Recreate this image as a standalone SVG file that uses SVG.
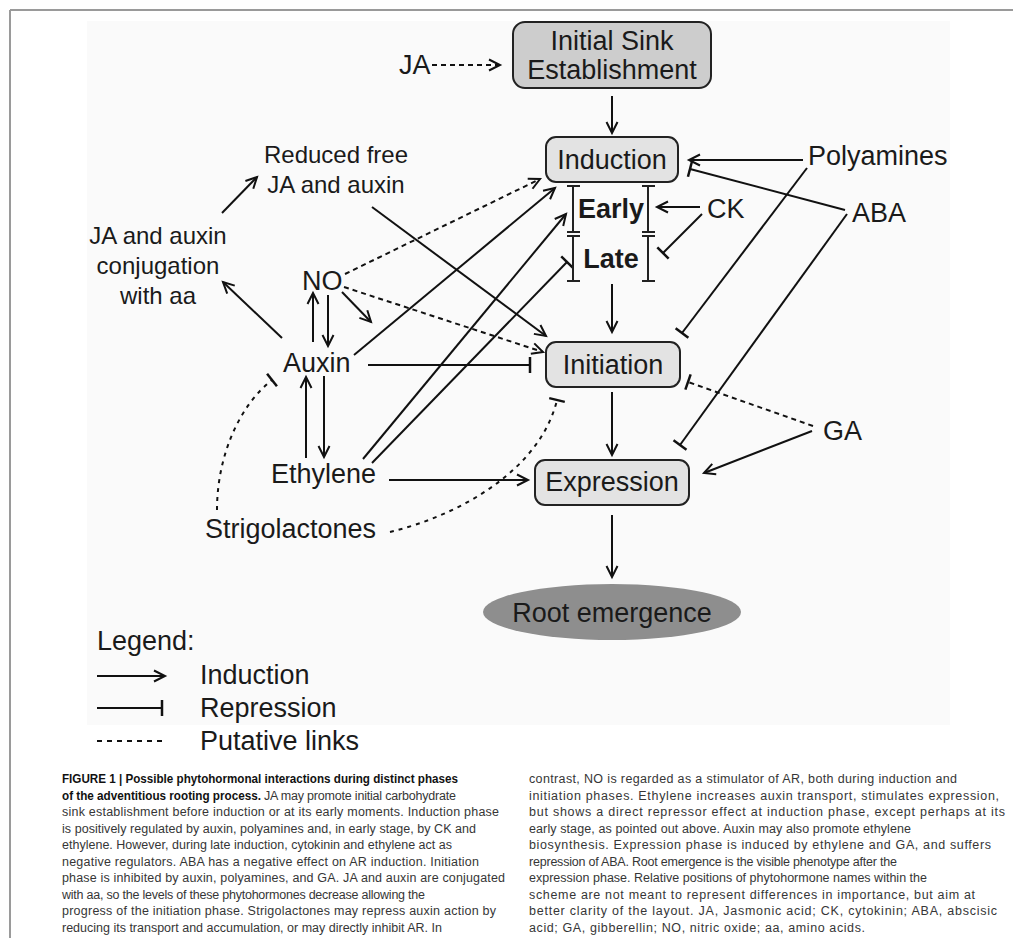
<svg xmlns="http://www.w3.org/2000/svg" width="1013" height="938" viewBox="0 0 1013 938">
<defs>
<style>
.t{font-family:"Liberation Sans",Arial,sans-serif;font-size:27px;fill:#1a1a1a}
.ts{font-family:"Liberation Sans",Arial,sans-serif;font-size:24px;fill:#1a1a1a}
.tb{font-family:"Liberation Sans",Arial,sans-serif;font-size:27px;font-weight:bold;fill:#1a1a1a}
.box{stroke:#222;stroke-width:2}
.c{fill:none;stroke:#111;stroke-width:2}
.d{stroke-dasharray:5 4}
.p{stroke-dasharray:4 5}
.br{fill:none;stroke:#222;stroke-width:2}
.cap{font-family:"Liberation Sans",Arial,sans-serif;font-size:12.5px;fill:#363636}
.capb{font-family:"Liberation Sans",Arial,sans-serif;font-size:12.5px;font-weight:bold;fill:#111}
</style>
<marker id="arr" markerUnits="userSpaceOnUse" viewBox="0 0 16 14" markerWidth="16" markerHeight="14" refX="13" refY="7" orient="auto"><path d="M2,1.5 L13,7 L2,12.5" fill="none" stroke="#111" stroke-width="2"/></marker>
<marker id="bar" markerUnits="userSpaceOnUse" viewBox="0 0 6 20" markerWidth="6" markerHeight="20" refX="3" refY="10" orient="auto"><path d="M3,2 L3,18" stroke="#111" stroke-width="2.5"/></marker>
</defs>
<rect width="1013" height="938" fill="#fff"/>
<rect x="87" y="21" width="863" height="704" fill="#fafafa"/>
<path d="M10,10 H1013 M10,10 V938" fill="none" stroke="#9a9a9a" stroke-width="2"/>

<g id="connectors">
<path class="c d" d="M432,65 H500" marker-end="url(#arr)"/>
<path class="c" d="M612,96 V133" marker-end="url(#arr)"/>
<path class="c" d="M612,284 V332" marker-end="url(#arr)"/>
<path class="c" d="M612,392 V455" marker-end="url(#arr)"/>
<path class="c" d="M612,515 V577" marker-end="url(#arr)"/>
<path class="c" d="M803,160 H689" stroke-width="2.5" marker-end="url(#arr)"/>
<path class="c" d="M807,168 L682,333" marker-end="url(#bar)"/>
<path class="c" d="M845,210 L690,169" marker-end="url(#bar)"/>
<path class="c" d="M847,214 L680,445" marker-end="url(#bar)"/>
<path class="c" d="M700,207 H657" marker-end="url(#arr)"/>
<path class="c" d="M702,214 L663,253" marker-end="url(#bar)"/>
<path class="c d" d="M813,426 L688,382" marker-end="url(#bar)"/>
<path class="c" d="M812,431 L704,473" marker-end="url(#arr)"/>
<path class="c d" d="M345,274 L540,179" marker-end="url(#arr)"/>
<path class="c d" d="M344,287 L543,352" marker-end="url(#arr)"/>
<path class="c" d="M342,292 L371,322" marker-end="url(#arr)"/>
<path class="c" d="M313,342 V293" marker-end="url(#arr)"/>
<path class="c" d="M328,295 V346" marker-end="url(#arr)"/>
<path class="c" d="M282,338 L223,282" marker-end="url(#arr)"/>
<path class="c" d="M222,213 L257,177" marker-end="url(#arr)"/>
<path class="c" d="M372,207 L546,336" marker-end="url(#arr)"/>
<path class="c" d="M354,355 L555,188" marker-end="url(#arr)"/>
<path class="c" d="M368,365 H530" marker-end="url(#bar)"/>
<path class="c" d="M306,458 V377" marker-end="url(#arr)"/>
<path class="c" d="M324,376 V457" marker-end="url(#arr)"/>
<path class="c" d="M363,459 L566,214" marker-end="url(#arr)"/>
<path class="c" d="M372,463 L567,262" marker-end="url(#bar)"/>
<path class="c" d="M389,480 H528" marker-end="url(#arr)"/>
<path class="c p" d="M217,510 C217,455 240,405 272,380" marker-end="url(#bar)"/>
<path class="c p" d="M390,532 C460,515 540,470 557,400" marker-end="url(#bar)"/>
</g>

<g id="sink"><rect class="box" x="513" y="22" width="198" height="66" rx="12" fill="#cdcdcd"/>
<text class="t" x="612" y="50" text-anchor="middle">Initial Sink</text>
<text class="t" x="612" y="79" text-anchor="middle">Establishment</text></g>
<g id="induction"><rect class="box" x="546" y="137" width="132" height="45" rx="10" fill="#e3e3e3"/>
<text class="t" x="612" y="169" text-anchor="middle">Induction</text></g>
<g id="early"><path class="br" d="M567,186 H580 M573,186 V232 M567,232 H580 M642,186 H655 M648,186 V232 M642,232 H655"/>
<text class="tb" x="611" y="218" text-anchor="middle">Early</text></g>
<g id="late"><path class="br" d="M567,236 H580 M573,236 V281 M567,281 H580 M642,236 H655 M648,236 V281 M642,281 H655"/>
<text class="tb" x="611" y="268" text-anchor="middle">Late</text></g>
<g id="initiation"><rect class="box" x="546" y="342" width="134" height="45" rx="10" fill="#e3e3e3"/>
<text class="t" x="613" y="374" text-anchor="middle">Initiation</text></g>
<g id="expression"><rect class="box" x="535" y="460" width="154" height="45" rx="10" fill="#e3e3e3"/>
<text class="t" x="612" y="491" text-anchor="middle">Expression</text></g>
<g id="root"><ellipse cx="612" cy="612" rx="129" ry="28" fill="#8e8e8e"/>
<text class="t" x="612" y="622" text-anchor="middle">Root emergence</text></g>

<g id="ja"><text class="t" x="399" y="74">JA</text></g>
<g id="reduced"><text class="ts" x="336" y="163" text-anchor="middle">Reduced free</text>
<text class="ts" x="336" y="193" text-anchor="middle">JA and auxin</text></g>
<g id="conjugation"><text class="ts" x="158" y="244" text-anchor="middle">JA and auxin</text>
<text class="ts" x="158" y="274" text-anchor="middle">conjugation</text>
<text class="ts" x="158" y="304" text-anchor="middle">with aa</text></g>
<g id="no"><text class="t" x="302" y="290">NO</text></g>
<g id="auxin"><text class="t" x="283" y="372">Auxin</text></g>
<g id="ethylene"><text class="t" x="271" y="483">Ethylene</text></g>
<g id="strigolactones"><text class="t" x="205" y="538">Strigolactones</text></g>
<g id="polyamines"><text class="t" x="808" y="165">Polyamines</text></g>
<g id="ck"><text class="t" x="707" y="218">CK</text></g>
<g id="aba"><text class="t" x="852" y="222">ABA</text></g>
<g id="ga"><text class="t" x="823" y="440">GA</text></g>

<g id="legend">
<text class="t" x="97" y="650">Legend:</text>
<path class="c" d="M97,676 H165" marker-end="url(#arr)"/>
<text class="t" x="200" y="684">Induction</text>
<path class="c" d="M97,708 H162" stroke-width="2.5" marker-end="url(#bar)"/>
<text class="t" x="200" y="717">Repression</text>
<path class="c" d="M97,741 H162" stroke-dasharray="5 5"/>
<text class="t" x="200" y="750">Putative links</text>
</g>

<g id="caption">
<text x="62" y="783" class="capb" textLength="396" lengthAdjust="spacingAndGlyphs">FIGURE 1 | Possible phytohormonal interactions during distinct phases</text>
<text x="62" y="799.5" class="capb" textLength="199" lengthAdjust="spacingAndGlyphs">of the adventitious rooting process.</text>
<text x="264" y="799.5" class="cap" textLength="192">JA may promote initial carbohydrate</text>
<text x="62" y="816" class="cap" textLength="437">sink establishment before induction or at its early moments. Induction phase</text>
<text x="62" y="832.5" class="cap" textLength="414">is positively regulated by auxin, polyamines and, in early stage, by CK and</text>
<text x="62" y="849" class="cap" textLength="390">ethylene. However, during late induction, cytokinin and ethylene act as</text>
<text x="62" y="865.5" class="cap" textLength="417">negative regulators. ABA has a negative effect on AR induction. Initiation</text>
<text x="62" y="882" class="cap" textLength="443">phase is inhibited by auxin, polyamines, and GA. JA and auxin are conjugated</text>
<text x="62" y="898.5" class="cap" textLength="363">with aa, so the levels of these phytohormones decrease allowing the</text>
<text x="62" y="915" class="cap" textLength="434">progress of the initiation phase. Strigolactones may repress auxin action by</text>
<text x="62" y="931.5" class="cap" textLength="380">reducing its transport and accumulation, or may directly inhibit AR. In</text>
<text x="529" y="783" class="cap" textLength="428">contrast, NO is regarded as a stimulator of AR, both during induction and</text>
<text x="529" y="799.5" class="cap" textLength="470">initiation phases. Ethylene increases auxin transport, stimulates expression,</text>
<text x="529" y="816" class="cap" textLength="476">but shows a direct repressor effect at induction phase, except perhaps at its</text>
<text x="529" y="832.5" class="cap" textLength="382">early stage, as pointed out above. Auxin may also promote ethylene</text>
<text x="529" y="849" class="cap" textLength="462">biosynthesis. Expression phase is induced by ethylene and GA, and suffers</text>
<text x="529" y="865.5" class="cap" textLength="368">repression of ABA. Root emergence is the visible phenotype after the</text>
<text x="529" y="882" class="cap" textLength="398">expression phase. Relative positions of phytohormone names within the</text>
<text x="529" y="898.5" class="cap" textLength="446">scheme are not meant to represent differences in importance, but aim at</text>
<text x="529" y="915" class="cap" textLength="468">better clarity of the layout. JA, Jasmonic acid; CK, cytokinin; ABA, abscisic</text>
<text x="529" y="931.5" class="cap" textLength="336">acid; GA, gibberellin; NO, nitric oxide; aa, amino acids.</text>
</g>
</svg>
